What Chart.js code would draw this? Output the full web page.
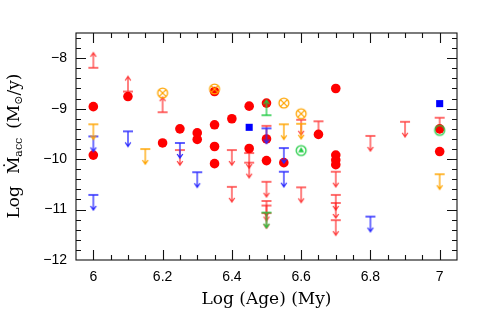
<!DOCTYPE html>
<html>
<head>
<meta charset="utf-8">
<script src="https://cdn.jsdelivr.net/npm/chart.js@4.4.1/dist/chart.umd.min.js"></script>
<style>
  html, body { margin: 0; padding: 0; background: #fff; }
  canvas { display: block; }
</style>
</head>
<body>
<canvas id="chart" width="491" height="312"></canvas>
<script>
// detections (filled red circles)
const redDetX = [6.0, 6.0, 6.1, 6.2, 6.25, 6.3, 6.3, 6.35, 6.35, 6.35, 6.35, 6.4, 6.45, 6.45, 6.5, 6.5, 6.5, 6.55, 6.65, 6.7, 6.7, 6.7, 6.7, 7.0, 7.0];
const redDetY = [-8.96, -9.92, -8.76, -9.68, -9.40, -9.48, -9.61, -8.66, -9.32, -9.75, -10.09, -9.20, -8.95, -9.79, -8.89, -9.60, -10.03, -10.07, -9.51, -8.60, -9.92, -10.02, -10.11, -9.40, -9.85];

// red upper / lower limits
const redUpX = [6.25, 6.4, 6.4, 6.45, 6.45, 6.5, 6.5, 6.5, 6.5, 6.5, 6.6, 6.6, 6.65, 6.7, 6.7, 6.7, 6.7, 6.8, 6.9, 7.0];
const redUpY = [-9.82, -9.82, -10.55, -9.88, -10.07, -9.34, -10.45, -10.83, -10.92, -11.07, -9.22, -10.56, -9.25, -10.25, -10.71, -10.87, -11.21, -9.54, -9.26, -9.18];
const redLoX = [6.0, 6.1, 6.2];
const redLoY = [-8.19, -8.66, -9.07];

// blue
const blueUpX = [6.0, 6.0, 6.1, 6.25, 6.3, 6.5, 6.55, 6.55, 6.8];
const blueUpY = [-9.55, -10.71, -9.45, -9.68, -10.26, -9.39, -9.78, -10.25, -11.14];
const blueSqX = [6.45, 7.0];
const blueSqY = [-9.37, -8.90];

// orange
const orangeUpX = [6.0, 6.15, 6.55, 6.6, 7.0];
const orangeUpY = [-9.31, -9.80, -9.31, -9.30, -10.30];
const orangeOxX = [6.2, 6.35, 6.55, 6.6];
const orangeOxY = [-8.69, -8.61, -8.89, -9.10];

// green
const greenLoX = [6.5];
const greenLoY = [-9.13];
const greenUpX = [6.5];
const greenUpY = [-11.06];
const greenTriX = [6.6];
const greenTriY = [-9.83];
const greenRingX = [7.0];
const greenRingY = [-9.43];

const xTicks = [6, 6.2, 6.4, 6.6, 6.8, 7];
const yTicks = [-12, -11, -10, -9, -8];
const xTitle = 'Log (Age) (My)';

const RED = '#ff0000', RED_LIM = 'rgba(255,20,20,0.82)';
const BLUE = '#0000ff', BLUE_LIM = '#2a2aff';
const ORANGE = '#ffa500';
const GREEN = '#22cc44';
const SERIF = '"DejaVu Serif", serif';
const SANS = '"Liberation Sans", Arial, sans-serif';

function pts(xs, ys) { return xs.map((x, i) => ({ x: x, y: ys[i] })); }

// T with arrow; the bar sits in the middle of the canvas so the image centres on the value
function limitGlyph(color, up) {
  const c = document.createElement('canvas');
  c.width = 14; c.height = 36;
  const g = c.getContext('2d');
  const mid = 18, cx = 7, tip = up ? mid - 15 : mid + 15, d = up ? 4 : -4;
  g.strokeStyle = color; g.lineWidth = 1.3;
  g.beginPath();
  g.moveTo(cx - 5, mid); g.lineTo(cx + 5, mid);
  g.moveTo(cx, mid); g.lineTo(cx, tip);
  g.moveTo(cx - 2.8, tip + d); g.lineTo(cx, tip); g.lineTo(cx + 2.8, tip + d);
  g.stroke();
  return c;
}

function ringGlyph(color, inner) {
  const c = document.createElement('canvas');
  c.width = 14; c.height = 14;
  const g = c.getContext('2d');
  g.strokeStyle = color; g.fillStyle = color; g.lineWidth = 1.3;
  g.beginPath(); g.arc(7, 7, 4.9, 0, 2 * Math.PI); g.stroke();
  if (inner === 'x') {
    const r = 3.4;
    g.beginPath();
    g.moveTo(7 - r, 7 - r); g.lineTo(7 + r, 7 + r);
    g.moveTo(7 + r, 7 - r); g.lineTo(7 - r, 7 + r);
    g.stroke();
  } else if (inner === 'tri') {
    g.beginPath();
    g.moveTo(7, 3.6); g.lineTo(4, 8.8); g.lineTo(10, 8.8); g.closePath();
    g.fill();
  }
  return c;
}

function ds(data, style, color, order, radius) {
  return {
    data: data, pointStyle: style, order: order,
    pointRadius: radius || 5, pointHoverRadius: radius || 5,
    backgroundColor: color, borderColor: color, borderWidth: 0, showLine: false
  };
}

const axesPlugin = {
  id: 'axesFrame',
  afterDraw(chart) {
    const { ctx, chartArea: a, scales: { x, y } } = chart;
    ctx.save();
    ctx.strokeStyle = '#111';
    ctx.lineWidth = 1.1;
    ctx.strokeRect(a.left, a.top, a.right - a.left, a.bottom - a.top);
    ctx.beginPath();
    for (let k = 1; k < 22; k++) {
      const v = 5.95 + k * 0.05;
      const major = Math.abs(v * 5 - Math.round(v * 5)) < 1e-6;
      const len = major ? 10 : 5;
      const px = Math.round(x.getPixelForValue(v)) + 0.5;
      ctx.moveTo(px, a.bottom); ctx.lineTo(px, a.bottom - len);
      ctx.moveTo(px, a.top); ctx.lineTo(px, a.top + len);
    }
    for (let k = 1; k < 23; k++) {
      const v = -12 + k * 0.2;
      const major = Math.abs(v - Math.round(v)) < 1e-6;
      const len = major ? 10 : 5;
      const py = Math.round(y.getPixelForValue(v)) + 0.5;
      ctx.moveTo(a.left, py); ctx.lineTo(a.left + len, py);
      ctx.moveTo(a.right, py); ctx.lineTo(a.right - len, py);
    }
    ctx.stroke();

    // y title with subscripts, rotated
    ctx.fillStyle = '#000';
    ctx.translate(18.5, 146);
    ctx.rotate(-Math.PI / 2);
    ctx.textBaseline = 'alphabetic';
    const big = '17px ' + SERIF, small = '11px ' + SERIF;
    const parts = [
      [big, 'Log', 0, 0], [big, 'Ṁ', 12, 0], [small, 'acc', 0, 3],
      [big, '(M', 9, 0], [small, '⊙', 0, 3], [big, '/y)', 0, 0]
    ];
    let total = 0;
    parts.forEach(p => { ctx.font = p[0]; total += p[2] + ctx.measureText(p[1]).width; });
    let cx = -total / 2;
    parts.forEach(p => {
      ctx.font = p[0];
      cx += p[2];
      ctx.fillText(p[1], cx, p[3]);
      cx += ctx.measureText(p[1]).width;
    });
    ctx.restore();
  }
};

new Chart(document.getElementById('chart'), {
  type: 'scatter',
  data: {
    datasets: [
      ds(pts(redUpX, redUpY), limitGlyph(RED_LIM, false), RED, 9),
      ds(pts(redLoX, redLoY), limitGlyph(RED_LIM, true), RED, 8),
      ds(pts(redDetX, redDetY), 'circle', RED, 7, 4.8),
      ds(pts(blueUpX, blueUpY), limitGlyph(BLUE_LIM, false), BLUE, 6),
      ds(pts(blueSqX, blueSqY), 'rect', BLUE, 5, 5),
      ds(pts(orangeUpX, orangeUpY), limitGlyph(ORANGE, false), ORANGE, 4),
      ds(pts(orangeOxX, orangeOxY), ringGlyph(ORANGE, 'x'), ORANGE, 3),
      ds(pts(greenUpX, greenUpY), limitGlyph(GREEN, false), GREEN, 2),
      ds(pts(greenLoX, greenLoY), limitGlyph(GREEN, true), GREEN, 2),
      ds(pts(greenTriX, greenTriY), ringGlyph(GREEN, 'tri'), GREEN, 1),
      ds(pts(greenRingX, greenRingY), ringGlyph(GREEN, ''), GREEN, 1)
    ]
  },
  options: {
    responsive: false,
    animation: false,
    events: [],
    layout: { padding: { top: 33, right: 34, bottom: 0, left: 0 } },
    plugins: { legend: { display: false }, tooltip: { enabled: false } },
    scales: {
      x: {
        type: 'linear', min: 5.95, max: 7.05,
        afterBuildTicks: s => { s.ticks = xTicks.map(v => ({ value: v })); },
        afterFit: s => { s.height = 52; },
        grid: { display: false, drawTicks: false },
        border: { display: false },
        ticks: { padding: 9, color: '#000', font: { family: SANS, size: 14 }, callback: v => String(v) },
        title: { display: true, text: xTitle, color: '#000', font: { family: SERIF, size: 17 }, padding: { top: 0, bottom: 2 } }
      },
      y: {
        type: 'linear', min: -12, max: -7.5,
        afterBuildTicks: s => { s.ticks = yTicks.map(v => ({ value: v })); },
        afterFit: s => { s.width = 76; },
        grid: { display: false, drawTicks: false },
        border: { display: false },
        ticks: { padding: 9, color: '#000', font: { family: SANS, size: 14 }, callback: v => '\u2212' + Math.abs(v) }
      }
    }
  },
  plugins: [axesPlugin]
});
</script>
</body>
</html>
